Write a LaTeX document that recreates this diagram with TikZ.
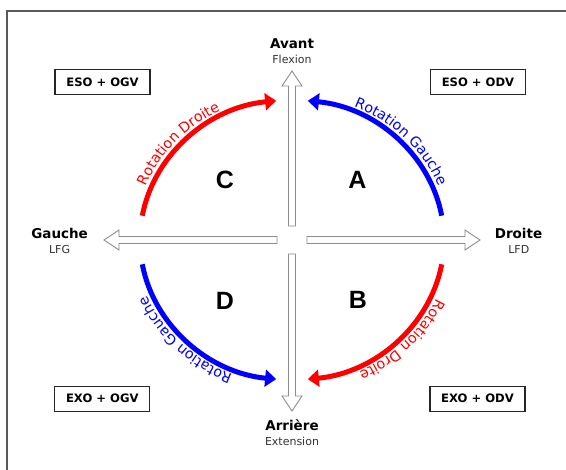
\documentclass[tikz,border=0pt]{standalone}
\usepackage{fontspec}
\setmainfont{DejaVu Sans}
\newfontfamily\arialfont{Liberation Sans}
\usetikzlibrary{arrows.meta,decorations.text,calc}
\definecolor{framegray}{RGB}{90,90,90}
\definecolor{arrowgray}{RGB}{140,140,140}
\definecolor{subgray}{RGB}{50,50,50}
\newcommand\hollowarrow[3]{%
  \coordinate (#3h) at ($(#2)!15pt!(#1)$);
  \draw[hollow] ($(#1)!3.5pt!90:(#2)$) -- ($(#3h)!3.5pt!-90:(#1)$) -- ($(#3h)!10pt!-90:(#1)$)
    -- (#2) -- ($(#3h)!10pt!90:(#1)$) -- ($(#3h)!3.5pt!90:(#1)$) -- ($(#1)!3.5pt!-90:(#2)$) -- cycle;}
\begin{document}
\begin{tikzpicture}[x=1pt,y=1pt,
  lbl/.style={font=\bfseries\fontsize{13.5}{15}\selectfont, anchor=base, inner sep=0},
  sublbl/.style={font=\fontsize{11}{13}\selectfont, text=subgray, anchor=base, inner sep=0},
  combo/.style={draw=black!85, line width=1.1pt, minimum width=95pt, minimum height=25pt, inner sep=0, font=\bfseries\fontsize{11.6}{13}\selectfont},
  quad/.style={font=\arialfont\bfseries\fontsize{25}{28}\selectfont, inner sep=0},
  rot/.style={line width=5pt, -{Triangle[length=11pt,width=17pt]}},
  hollow/.style={draw=arrowgray, fill=white, line width=0.9pt, line join=miter},
  rottext/.style={decorate, decoration={text along path, text align=center, text color=#1}},
]
\useasboundingbox (0,0) rectangle (566,470);
\draw[framegray, line width=1.8pt] (6.7,0) -- (6.7,459.3) -- (566,459.3);

% centre and arrow ends
\coordinate (O) at (292,230);
\coordinate (upS) at (292,244);   \coordinate (upT) at (292,399);
\coordinate (dnS) at (292,216);   \coordinate (dnT) at (292,59);
\coordinate (lfS) at (277,230);   \coordinate (lfT) at (104,230);
\coordinate (rtS) at (307,230);   \coordinate (rtT) at (480,230);
\hollowarrow{upS}{upT}{up}
\hollowarrow{dnS}{dnT}{dn}
\hollowarrow{lfS}{lfT}{lf}
\hollowarrow{rtS}{rtT}{rt}

% direction labels
\node[lbl] (avant) at (292,421) {Avant};
\node[sublbl] (flex) at (292,406.5) {Flexion};
\node[lbl] (gauche) at (59.6,231) {Gauche};
\node[sublbl] (lfg) at (59.6,216.7) {LFG};
\node[lbl] (droite) at (518.5,231) {Droite};
\node[sublbl] (lfd) at (518.8,216.7) {LFD};
\node[lbl] (arriere) at (292,39) {Arrière};
\node[sublbl] (ext) at (292,24) {Extension};

% combination boxes
\node[combo] (eog) at (102.5,388.2) {ESO + OGV};
\node[combo] (eod) at (478,388.2) {ESO + ODV};
\node[combo] (xog) at (102.3,71.3) {EXO + OGV};
\node[combo] (xod) at (477.5,71.3) {EXO + ODV};

% quadrant letters
\node[quad] (qa) at (357.5,290) {A};
\node[quad] (qc) at (225,290) {C};
\node[quad] (qd) at (225,169.5) {D};
\node[quad] (qb) at (358,170.5) {B};

% rotation arcs
\draw[rot, red] (O) ++(170:152 and 140) arc[start angle=170, end angle=96, x radius=152, y radius=140];
\draw[rot, blue] (O) ++(10:152 and 140) arc[start angle=10, end angle=84, x radius=152, y radius=140];
\draw[rot, blue] (O) ++(190:152 and 140) arc[start angle=190, end angle=264, x radius=152, y radius=140];
\draw[rot, red] (O) ++(350:152 and 140) arc[start angle=350, end angle=276, x radius=152, y radius=140];

% arc texts
\path[rottext=red, decoration={text={|\fontsize{14.3}{16}\selectfont|Rotation Droite}}]
  (O) ++(168:157.5 and 145.5) arc[start angle=168, end angle=108, x radius=157.5, y radius=145.5];
\path[rottext=blue, decoration={text={|\fontsize{14.3}{16}\selectfont|Rotation Gauche}}]
  (O) ++(74:157.5 and 145.5) arc[start angle=74, end angle=14, x radius=157.5, y radius=145.5];
\path[rottext=red, decoration={text={|\fontsize{14.3}{16}\selectfont|Rotation Droite}}]
  (O) ++(346:157.5 and 145.5) arc[start angle=346, end angle=286, x radius=157.5, y radius=145.5];
\path[rottext=blue, decoration={text={|\fontsize{14.3}{16}\selectfont|Rotation Gauche}}]
  (O) ++(255:157.5 and 145.5) arc[start angle=255, end angle=195, x radius=157.5, y radius=145.5];
\end{tikzpicture}
\end{document}
